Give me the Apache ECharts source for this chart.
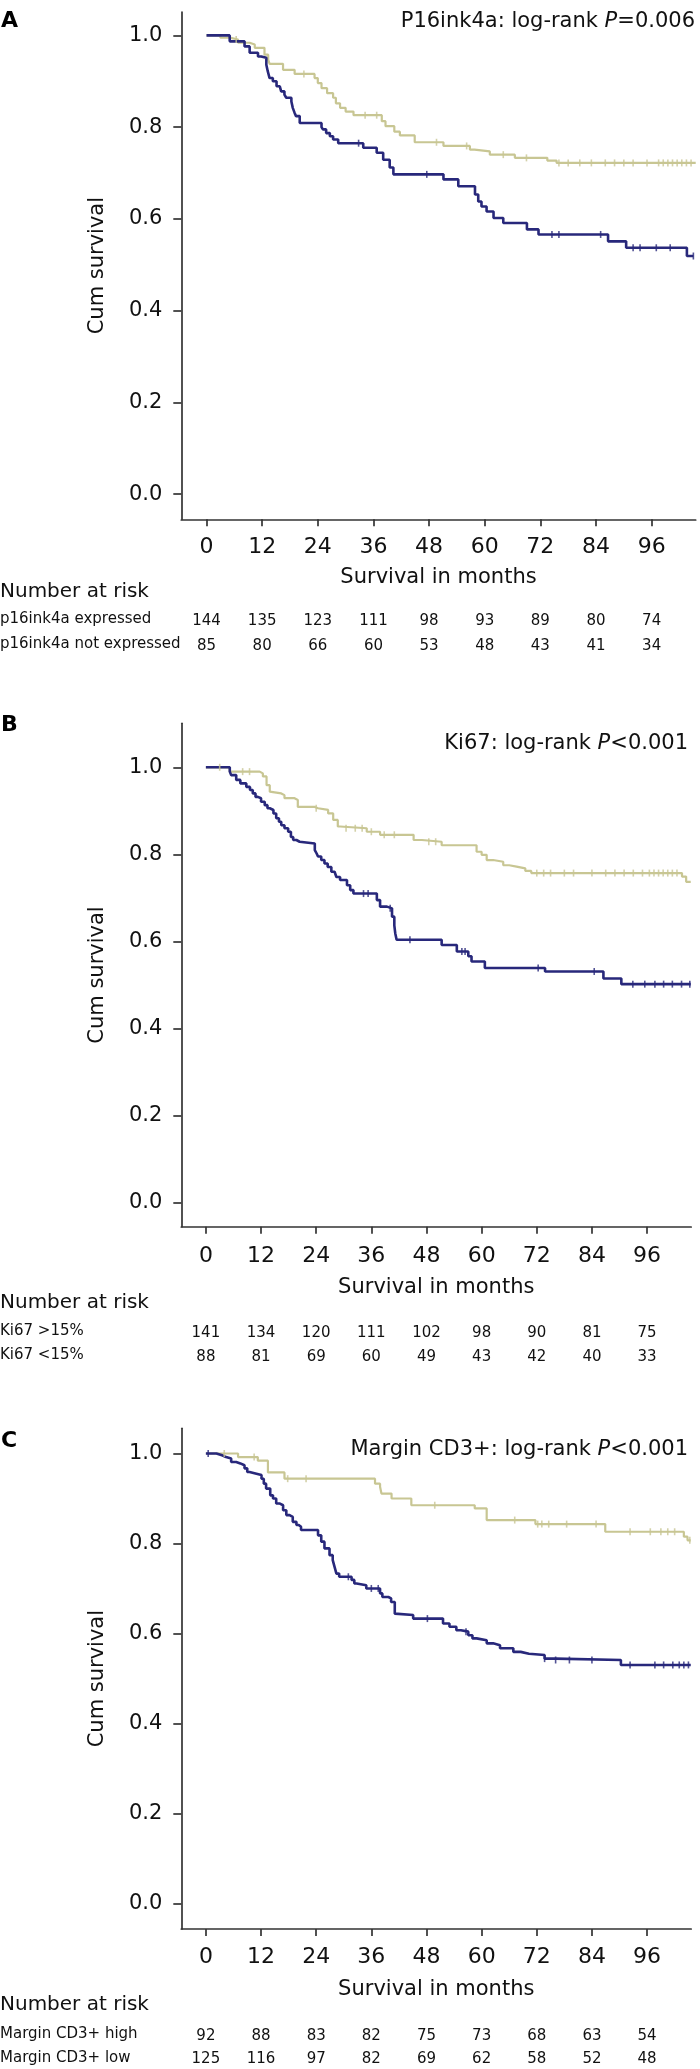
<!DOCTYPE html>
<html>
<head>
<meta charset="utf-8">
<script src="https://cdn.jsdelivr.net/npm/echarts@6/dist/echarts.min.js"></script>
<style>
html,body{margin:0;padding:0;background:#ffffff;}
#chart{width:700px;height:2069px;}
</style>
</head>
<body>
<div id="chart"></div>
<script>
// ---------------- DATA ----------------
const tickMonths = [0, 12, 24, 36, 48, 60, 72, 84, 96];
const yTicks = [0, 0.2, 0.4, 0.6, 0.8, 1.0];
const yTickLabels = ['0.0', '0.2', '0.4', '0.6', '0.8', '1.0'];

const panelLetters = ['A', 'B', 'C'];
const titleMarkers = ['P16ink4a', 'Ki67', 'Margin CD3+'];
const titleStats = ['=0.006', '<0.001', '<0.001'];
const xAxisTitle = 'Survival in months';
const yAxisTitle = 'Cum survival';
const riskHeader = 'Number at risk';

const riskLabelsA = ['p16ink4a expressed', 'p16ink4a not expressed'];
const riskA1 = [144, 135, 123, 111, 98, 93, 89, 80, 74];
const riskA2 = [85, 80, 66, 60, 53, 48, 43, 41, 34];

const riskLabelsB = ['Ki67 >15%', 'Ki67 <15%'];
const riskB1 = [141, 134, 120, 111, 102, 98, 90, 81, 75];
const riskB2 = [88, 81, 69, 60, 49, 43, 42, 40, 33];

const riskLabelsC = ['Margin CD3+ high', 'Margin CD3+ low'];
const riskC1 = [92, 88, 83, 82, 75, 73, 68, 63, 54];
const riskC2 = [125, 116, 97, 82, 69, 62, 58, 52, 48];

// Kaplan-Meier step points [month, cumulative survival]
const kmA1 = [[0,1],[3,0.995],[5,0.991],[6.8,0.984],[9.3,0.98],[10.4,0.973],[12.5,0.958],[13.3,0.947],[13.6,0.938],[16.5,0.925],[19,0.916],[23.3,0.907],[24,0.896],[24.8,0.885],[26,0.874],[27.3,0.864],[27.9,0.852],[28.8,0.842],[30,0.834],[31.7,0.826],[37.8,0.813],[38.6,0.802],[40.5,0.79],[41.7,0.782],[44.9,0.767],[51.1,0.759],[56.8,0.751],[57.8,0.747],[61.1,0.74],[66.5,0.733],[73.5,0.727],[75.5,0.722],[105.5,0.722]];
const kmA2 = [[0,1],[5,0.987],[8.2,0.976],[9.3,0.962],[11.1,0.954],[11.8,0.951],[12.9,0.936],[13.2,0.922],[13.6,0.907],[14.3,0.9],[15.1,0.889],[15.8,0.885],[16.1,0.878],[16.8,0.871],[17.2,0.864],[18.3,0.856],[18.6,0.842],[19,0.831],[19.3,0.824],[20.1,0.809],[24.8,0.8],[25.1,0.795],[25.8,0.787],[26.6,0.78],[27.3,0.773],[28.4,0.765],[33.8,0.755],[36.7,0.744],[38.1,0.729],[39.5,0.712],[40.3,0.697],[51.1,0.686],[54.3,0.671],[57.9,0.653],[58.6,0.638],[59.3,0.627],[60.4,0.616],[61.9,0.602],[64,0.591],[69.1,0.577],[71.6,0.566],[86.6,0.551],[90.5,0.537],[103.6,0.519],[105,0.519]];
const cenA1 = [6.4, 21, 34.2, 36.7, 49.6, 56.1, 64, 69, 76, 78, 80.5, 83, 86, 88, 90, 92, 95, 97.5, 98.5, 99.5, 100.5, 101.5, 102.5, 103.5, 104.5];
const cenA2 = [32.8, 47.5, 74.5, 76, 85, 92, 93.5, 97, 100, 105];

const kmB1 = [[0,1],[5.2,0.99],[11.7,0.986],[12.4,0.979],[13.2,0.959],[13.9,0.944],[14.2,0.94],[16.4,0.936],[17.1,0.929],[19.3,0.925],[20,0.909],[23.7,0.906],[24.4,0.902],[26.6,0.894],[27.7,0.879],[28.7,0.864],[29.2,0.86],[35,0.852],[37.9,0.845],[45.2,0.833],[47,0.829],[51.3,0.821],[58.9,0.806],[60,0.799],[61.1,0.787],[62.5,0.783],[64.7,0.775],[66,0.772],[67.6,0.768],[69.5,0.762],[70.8,0.757],[103.6,0.749],[104.5,0.737],[105.5,0.737]];
const kmB2 = [[0,1],[5.2,0.99],[5.5,0.982],[6.6,0.971],[7.5,0.963],[8.8,0.955],[9.6,0.948],[10.2,0.94],[10.8,0.932],[11.3,0.929],[12,0.921],[12.8,0.913],[13.4,0.906],[13.9,0.902],[14.7,0.894],[15.3,0.883],[15.9,0.875],[16.4,0.867],[17.1,0.86],[17.9,0.852],[18.5,0.84],[19,0.833],[19.7,0.829],[20.4,0.825],[23.7,0.81],[24.1,0.802],[24.4,0.795],[25.1,0.787],[25.8,0.779],[26.5,0.771],[27.3,0.76],[28,0.756],[28.4,0.748],[29.2,0.741],[30.7,0.729],[31.4,0.718],[32.1,0.71],[37.2,0.695],[37.9,0.68],[39.4,0.676],[40.5,0.657],[41,0.637],[41.2,0.619],[41.5,0.604],[51.3,0.592],[54.6,0.577],[57.1,0.566],[57.8,0.554],[60.7,0.539],[73.8,0.531],[86.5,0.515],[90.4,0.502],[105.5,0.502]];
const cenB1 = [3, 8, 9.5, 24, 30.5, 32.5, 34, 36, 38.8, 41, 48.5, 50, 72, 73.5, 75, 78, 80, 84, 87, 89, 91, 93, 95, 96.5, 97.5, 98.5, 99.5, 100.5, 101.5, 102.5];
const cenB2 = [34.3, 35.3, 40.1, 44.4, 55.7, 56.4, 72.3, 84.5, 92.9, 95.5, 97.7, 99.6, 101.5, 103.5, 105.3];

const kmC1 = [[0,1],[7,0.992],[11.3,0.984],[13.5,0.958],[17.1,0.944],[36.8,0.933],[37.9,0.926],[38.2,0.911],[40.4,0.9],[44.7,0.885],[58.5,0.878],[61.1,0.852],[71.7,0.843],[86.9,0.826],[104,0.815],[104.8,0.807],[105.5,0.807]];
const kmC2 = [[0,1],[2.3,0.996],[3.5,0.992],[4.4,0.989],[5.5,0.981],[6.6,0.978],[7.5,0.974],[8.4,0.967],[9,0.959],[9.5,0.955],[11,0.952],[12.1,0.944],[12.6,0.933],[13.1,0.922],[14,0.907],[14.6,0.9],[15.3,0.889],[16,0.885],[16.8,0.874],[17.5,0.863],[18.2,0.859],[18.9,0.848],[19.7,0.841],[20.2,0.837],[20.7,0.83],[24.4,0.818],[25.1,0.804],[25.8,0.789],[26.9,0.774],[27.6,0.763],[28,0.748],[28.4,0.733],[29,0.726],[31.7,0.719],[32.3,0.711],[32.8,0.707],[34.9,0.7],[37.9,0.689],[38.4,0.681],[39.7,0.678],[40.3,0.67],[41.1,0.644],[41.5,0.641],[45.1,0.633],[51.6,0.622],[53,0.615],[54.5,0.607],[55.5,0.604],[57.1,0.596],[58,0.589],[58.9,0.585],[61.1,0.578],[62.5,0.574],[64,0.567],[66.9,0.559],[68.5,0.555],[70.3,0.552],[73.7,0.544],[76.1,0.541],[90.3,0.53],[105.5,0.53]];
const cenC1 = [4, 10.5, 17.8, 21.8, 49.8, 67.2, 72.2, 73.1, 74.6, 78.5, 84.9, 92.3, 96.7, 99, 100.5, 102, 105.3];
const cenC2 = [0.5, 31, 36, 37.5, 48.2, 56.6, 73.7, 76.1, 79.1, 84, 92.3, 97.7, 99.6, 101.6, 103, 104, 105];

// ---------------- STYLE / LAYOUT ----------------
const FONT = 'DejaVu Sans';
const TXT = '#111111';
const AXC = '#333333';
const colUpper = '#c8c693';
const colLower = '#28287b';

const frames = [
  {top: 12,     height: 507.3, left: 181.3, width: 514.4, xMin: -5.44, xMax: 105.5, yMin: -0.055, yMax: 1.051,
   titleRight: 5,  titleY: 21.5,  letterY: 22.5,  labMargin: 17,   nameGap: 47.7, narY: 594,    rowY: [620.7, 645.7]},
  {top: 723.3,  height: 503.4, left: 181.3, width: 509.9, xMin: -5.35, xMax: 105.6, yMin: -0.055, yMax: 1.101,
   titleRight: 12, titleY: 743.3, letterY: 726.7, labMargin: 19,   nameGap: 49.6, narY: 1305,   rowY: [1332.7, 1356.7]},
  {top: 1428.3, height: 500.7, left: 181.3, width: 509.9, xMin: -5.35, xMax: 105.6, yMin: -0.057, yMax: 1.056,
   titleRight: 12, titleY: 1450,  letterY: 1442.5, labMargin: 17.7, nameGap: 49.3, narY: 2006.7, rowY: [2036, 2059.3]}
];

const panels = [
  {curves: [kmA1, kmA2], censors: [cenA1, cenA2], riskLabels: riskLabelsA, risks: [riskA1, riskA2]},
  {curves: [kmB1, kmB2], censors: [cenB1, cenB2], riskLabels: riskLabelsB, risks: [riskB1, riskB2]},
  {curves: [kmC1, kmC2], censors: [cenC1, cenC2], riskLabels: riskLabelsC, risks: [riskC1, riskC2]}
];

function stepValue(curve, t) {
  let v = curve[0][1];
  for (const p of curve) { if (p[0] <= t) v = p[1]; else break; }
  return v;
}

const grid = [], xAxis = [], yAxis = [], series = [], title = [], graphic = [];

panels.forEach((p, i) => {
  const f = frames[i];
  const gridBottom = f.top + f.height;
  grid.push({left: f.left, top: f.top, width: f.width, height: f.height, containLabel: false});

  const mainX = xAxis.length;
  xAxis.push({
    gridIndex: i, type: 'value', min: f.xMin, max: f.xMax, position: 'bottom',
    axisLine: {show: true, onZero: false, lineStyle: {color: AXC, width: 1.7}},
    axisTick: {show: true, inside: false, length: 7, customValues: tickMonths, lineStyle: {color: AXC, width: 1.7}},
    axisLabel: {show: true, customValues: tickMonths, margin: f.labMargin, fontSize: 22, fontFamily: FONT, color: TXT, lineHeight: 22},
    splitLine: {show: false},
    name: xAxisTitle, nameLocation: 'middle', nameGap: f.nameGap,
    nameTextStyle: {fontSize: 21, fontFamily: FONT, color: TXT, lineHeight: 22}
  });
  p.risks.forEach((risk, r) => {
    xAxis.push({
      gridIndex: i, type: 'value', min: f.xMin, max: f.xMax, position: 'bottom',
      offset: f.rowY[r] - gridBottom - 7.5,
      axisLine: {show: false}, axisTick: {show: false}, splitLine: {show: false},
      axisLabel: {show: true, customValues: tickMonths, margin: 0,
        formatter: v => String(risk[tickMonths.indexOf(Math.round(v))]),
        fontSize: 15, fontFamily: FONT, color: TXT, lineHeight: 15}
    });
  });

  yAxis.push({
    gridIndex: i, type: 'value', min: f.yMin, max: f.yMax,
    axisLine: {show: true, onZero: false, lineStyle: {color: AXC, width: 1.7}},
    axisTick: {show: true, inside: false, length: 8, customValues: yTicks, lineStyle: {color: AXC, width: 1.7}},
    axisLabel: {show: true, customValues: yTicks, margin: 19,
      formatter: v => yTickLabels[yTicks.findIndex(t => Math.abs(t - v) < 1e-6)],
      fontSize: 21, fontFamily: FONT, color: TXT, lineHeight: 22},
    splitLine: {show: false},
    name: yAxisTitle, nameLocation: 'middle', nameRotate: 90, nameGap: 71.7,
    nameTextStyle: {fontSize: 21, fontFamily: FONT, color: TXT, lineHeight: 24}
  });

  const cols = [colUpper, colLower];
  const widths = [2.2, 2.6];
  p.curves.forEach((curve, k) => {
    series.push({
      type: 'line', xAxisIndex: mainX, yAxisIndex: i, data: curve, step: 'end',
      showSymbol: false, symbol: 'none', silent: true, animation: false,
      lineStyle: {color: cols[k], width: widths[k]}, itemStyle: {color: cols[k]}, z: 2 + k
    });
  });
  p.censors.forEach((cens, k) => {
    series.push({
      type: 'scatter', xAxisIndex: mainX, yAxisIndex: i,
      data: cens.map(t => [t, stepValue(p.curves[k], t)]),
      symbol: 'rect', symbolSize: [1.6, 7], silent: true, animation: false,
      itemStyle: {color: cols[k]}, z: 4 + k
    });
  });

  title.push({
    text: '{n|' + titleMarkers[i] + ': log-rank }{i|P}{n|' + titleStats[i] + '}',
    right: f.titleRight, top: f.titleY - 12, padding: 0,
    textStyle: {fontWeight: 'normal', rich: {
      n: {fontSize: 21, fontFamily: FONT, fontWeight: 'normal', color: TXT, lineHeight: 24},
      i: {fontSize: 21, fontFamily: FONT, fontWeight: 'normal', fontStyle: 'italic', color: TXT, lineHeight: 24}
    }}
  });

  graphic.push({type: 'text', left: 1, top: f.letterY - 12,
    style: {text: panelLetters[i], font: 'bold 22px "DejaVu Sans"', fill: '#000'}});
  graphic.push({type: 'text', left: 0, top: f.narY - 12,
    style: {text: riskHeader, font: '20px "DejaVu Sans"', fill: TXT}});
  p.riskLabels.forEach((lab, r) => {
    graphic.push({type: 'text', left: 0, top: f.rowY[r] - 9,
      style: {text: lab, font: '15px "DejaVu Sans"', fill: TXT}});
  });
});

const chart = echarts.init(document.getElementById('chart'), null, {renderer: 'canvas'});
chart.setOption({
  animation: false,
  backgroundColor: '#ffffff',
  title: title,
  grid: grid,
  xAxis: xAxis,
  yAxis: yAxis,
  series: series,
  graphic: graphic
});
</script>
</body>
</html>
